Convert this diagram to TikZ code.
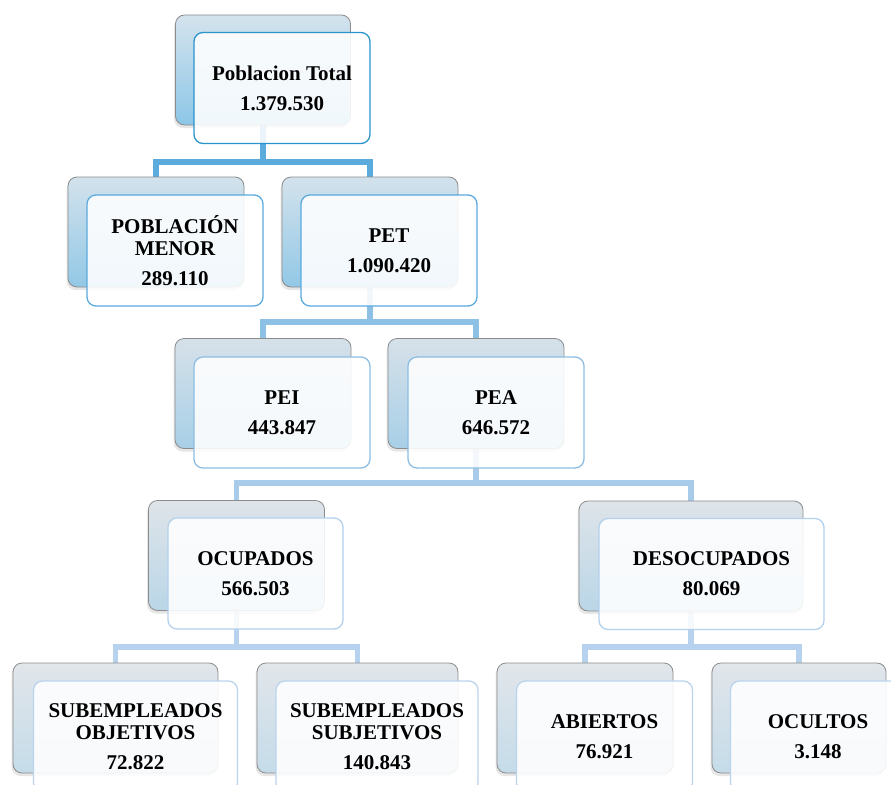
\documentclass[tikz,border=0pt]{standalone}
\usepackage{fontspec}
\setmainfont{Liberation Serif}
\usetikzlibrary{shadows}
\pgfdeclarelayer{bg}
\pgfsetlayers{bg,main}
\definecolor{fa}{HTML}{2A93CC}
\definecolor{fb}{HTML}{5AAADE}
\definecolor{fc}{HTML}{8DBDE2}
\definecolor{fd}{HTML}{B3D0EC}
\definecolor{fe}{HTML}{BBD4EE}
\definecolor{ta}{HTML}{D4E3ED}
\definecolor{ba}{HTML}{8CC6E7}
\definecolor{tb}{HTML}{D3E2EC}
\definecolor{bb}{HTML}{92C8E6}
\definecolor{tc}{HTML}{D6E1E9}
\definecolor{bc}{HTML}{A8CFE7}
\definecolor{td}{HTML}{DEE4E9}
\definecolor{bd}{HTML}{BAD6E7}
\definecolor{te}{HTML}{E1E6EA}
\definecolor{be}{HTML}{C5DBE9}
\definecolor{ca}{HTML}{5BABDD}
\definecolor{cb}{HTML}{8CC0E5}
\definecolor{cc}{HTML}{A9CBEA}
\definecolor{cd}{HTML}{B7D2EE}
\begin{document}
\begin{tikzpicture}[x=1pt,y=-1pt,
  backbox/.style={rounded corners=9pt, draw=black!45, line width=0.8pt,
    minimum height=110pt, inner sep=0pt,
    drop shadow={shadow xshift=-1.5pt, shadow yshift=-3pt, opacity=0.2}},
  frontbox/.style={rounded corners=9pt, fill=white, fill opacity=0.88,
    text opacity=1, line width=1.3pt, minimum height=111pt, inner sep=0pt,
    align=center, font=\fontsize{21}{22}\selectfont\bfseries},
  backA/.style={backbox, top color=ta, bottom color=ba},
  backB/.style={backbox, top color=tb, bottom color=bb},
  backC/.style={backbox, top color=tc, bottom color=bc},
  backD/.style={backbox, top color=td, bottom color=bd},
  backE/.style={backbox, top color=te, bottom color=be},
  frontA/.style={frontbox, draw=fa},
  frontB/.style={frontbox, draw=fb},
  frontC/.style={frontbox, draw=fc},
  frontD/.style={frontbox, draw=fd},
  frontE/.style={frontbox, draw=fe},
  conn/.style={line width=5.5pt},
  connA/.style={conn, draw=ca},
  connB/.style={conn, draw=cb},
  connC/.style={conn, draw=cc},
  connD/.style={conn, draw=cd}]
\useasboundingbox (0,0) rectangle (891,784);
\clip (0,0) rectangle (891,784);

% level 1
\node[backA, minimum width=175pt] (top-b) at (263,70) {};
\node[frontA, minimum width=176pt] (top) at (282,88) {Poblacion Total\\[8pt]1.379.530};

% level 2
\node[backB, minimum width=176pt] (pm-b) at (156,232) {};
\node[frontB, minimum width=176pt] (pm) at (175,250.5) {POBLACIÓN\\MENOR\\[8pt]289.110};
\node[backB, minimum width=176pt] (pet-b) at (370,232) {};
\node[frontB, minimum width=176pt] (pet) at (389,250.5) {PET\\[8pt]1.090.420};

% level 3
\node[backC, minimum width=176pt] (pei-b) at (263,393.5) {};
\node[frontC, minimum width=176pt] (pei) at (282,412.5) {PEI\\[8pt]443.847};
\node[backC, minimum width=176pt] (pea-b) at (476,393.5) {};
\node[frontC, minimum width=176pt] (pea) at (496,412.5) {PEA\\[8pt]646.572};

% level 4
\node[backD, minimum width=176pt] (ocu-b) at (236.5,555.5) {};
\node[frontD, minimum width=175pt] (ocu) at (255.5,573.5) {OCUPADOS\\[8pt]566.503};
\node[backD, minimum width=224pt] (des-b) at (691,556) {};
\node[frontD, minimum width=225pt] (des) at (711.5,574) {DESOCUPADOS\\[8pt]80.069};

% level 5
\node[backE, minimum width=205pt] (so-b) at (115.5,718) {};
\node[frontE, minimum width=204pt] (so) at (135.5,736.5) {SUBEMPLEADOS\\OBJETIVOS\\[8pt]72.822};
\node[backE, minimum width=201pt] (ss-b) at (357.5,718) {};
\node[frontE, minimum width=202pt] (ss) at (377,736.5) {SUBEMPLEADOS\\SUBJETIVOS\\[8pt]140.843};
\node[backE, minimum width=176pt] (abi-b) at (585,718) {};
\node[frontE, minimum width=176pt] (abi) at (604.5,736.5) {ABIERTOS\\[8pt]76.921};
\node[backE, minimum width=174pt] (ocl-b) at (799,718) {};
\node[frontE, minimum width=175pt] (ocl) at (818,736.5) {OCULTOS\\[8pt]3.148};

\begin{pgfonlayer}{bg}
\coordinate (b1) at (263,162);
\coordinate (b2) at (370,322);
\coordinate (b3) at (476,483);
\coordinate (b4) at (236.5,647);
\coordinate (b5) at (691,647);
\draw[connA] (top-b.south) -- (b1);
\draw[connA] (pm-b.north) |- (b1) -| (pet-b.north);
\draw[connB] (pet-b.south) -- (b2);
\draw[connB] (pei-b.north) |- (b2) -| (pea-b.north);
\draw[connC] (pea-b.south) -- (b3);
\draw[connC] (ocu-b.north) |- (b3) -| (des-b.north);
\draw[connD] (ocu-b.south) -- (b4);
\draw[connD] (so-b.north) |- (b4) -| (ss-b.north);
\draw[connD] (des-b.south) -- (b5);
\draw[connD] (abi-b.north) |- (b5) -| (ocl-b.north);
\end{pgfonlayer}
\end{tikzpicture}
\end{document}
